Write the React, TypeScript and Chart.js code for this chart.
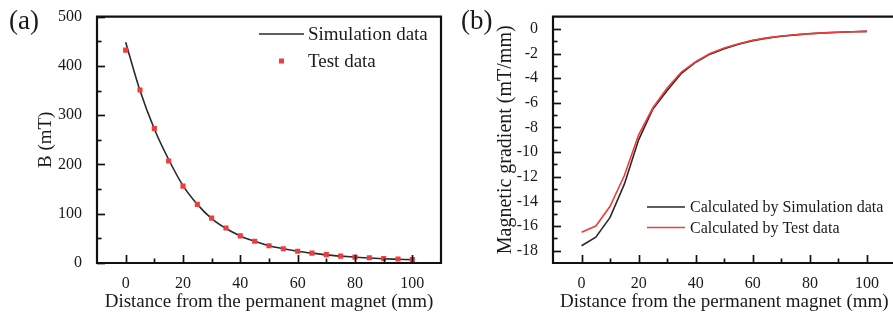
import React, { useEffect, useRef } from 'react';
import { Chart, registerables } from 'chart.js';

Chart.register(...registerables);

// ---------- data ----------
const distance = [0, 5, 10, 15, 20, 25, 30, 35, 40, 45, 50, 55, 60, 65, 70, 75, 80, 85, 90, 95, 100];
const simulationB = [448, 350, 272, 210, 157, 119, 90, 70, 55, 44, 35, 29, 24, 20, 16.5, 14, 12, 10, 8.5, 7.5, 6.5];
const testB = [432, 351, 273, 207, 156, 119, 91, 71, 55, 44, 35, 29, 24, 20, 17, 14, 12, 10.5, 9, 8, 7];
const gradientSimulation = [-17.6, -16.9, -15.3, -12.6, -9.0, -6.5, -5.0, -3.6, -2.7, -2.05, -1.6, -1.25, -0.95, -0.75, -0.6, -0.48, -0.39, -0.32, -0.27, -0.23, -0.2];
const gradientTest = [-16.5, -16.0, -14.4, -11.9, -8.6, -6.4, -4.8, -3.5, -2.65, -2.0, -1.55, -1.2, -0.92, -0.73, -0.58, -0.47, -0.38, -0.32, -0.27, -0.23, -0.2];

const xTicks = [0, 20, 40, 60, 80, 100];
const xMinorTicks = [10, 30, 50, 70, 90];
const bTicks = [0, 100, 200, 300, 400, 500];
const bMinorTicks = [50, 150, 250, 350, 450];
const gradTicks = [0, -2, -4, -6, -8, -10, -12, -14, -16, -18];
const gradMinorTicks = [-1, -3, -5, -7, -9, -11, -13, -15, -17];

const xTitle = 'Distance from the permanent magnet (mm)';
const bTitle = 'B (mT)';
const gradTitle = 'Magnetic gradient (mT/mm)';
const legendA = ['Simulation data', 'Test data'];
const legendB = ['Calculated by Simulation data', 'Calculated by Test data'];

const SERIF = '"Liberation Serif", "Times New Roman", serif';
const DARK = '#2a2a2a';
const RED = '#f23c3c';
const TEXT = '#1a1a1a';

// ---------- plugin: frame, inward ticks, legend, panel label ----------
const framePlugin = {
  id: 'frame',
  afterDraw(chart: any, _args: any, opts: any) {
    const { ctx, chartArea: a } = chart;
    const xs = chart.scales.x;
    const ys = chart.scales.y;
    ctx.save();
    ctx.strokeStyle = '#111111';
    ctx.lineWidth = 2.2;
    ctx.lineCap = 'square';
    ctx.beginPath();
    ctx.moveTo(a.left, a.top);
    ctx.lineTo(a.right, a.top);
    ctx.lineTo(a.right, a.bottom);
    ctx.lineTo(a.left, a.bottom);
    ctx.closePath();
    ctx.stroke();
    ctx.lineCap = 'butt';
    ctx.lineWidth = 1.7;
    const tick = (vals: number[], len: number, horiz: boolean) => {
      vals.forEach((v) => {
        ctx.beginPath();
        if (horiz) {
          const px = Math.round(xs.getPixelForValue(v)) + 0.5;
          ctx.moveTo(px, a.bottom);
          ctx.lineTo(px, a.bottom - len);
        } else {
          const py = Math.round(ys.getPixelForValue(v)) + 0.5;
          ctx.moveTo(a.left, py);
          ctx.lineTo(a.left + len, py);
        }
        ctx.stroke();
      });
    };
    tick(opts.xMajor, 8, true);
    tick(opts.xMinor, 4.5, true);
    tick(opts.yMajor, 8, false);
    tick(opts.yMinor, 4.5, false);

    // legend
    ctx.textBaseline = 'middle';
    ctx.textAlign = 'left';
    ctx.font = `${opts.legendSize}px ${SERIF}`;
    opts.legend.forEach((it: any) => {
      if (it.kind === 'line') {
        ctx.strokeStyle = it.color;
        ctx.lineWidth = 1.6;
        ctx.beginPath();
        ctx.moveTo(it.x0, it.y);
        ctx.lineTo(it.x1, it.y);
        ctx.stroke();
      } else {
        ctx.fillStyle = it.color;
        const c = (it.x0 + it.x1) / 2;
        ctx.fillRect(c - 2.5, it.y - 2.5, 5, 5);
      }
      ctx.fillStyle = TEXT;
      ctx.fillText(it.text, it.tx, it.y + 1);
    });

    // panel label
    ctx.font = `27px ${SERIF}`;
    ctx.textBaseline = 'alphabetic';
    ctx.fillStyle = TEXT;
    ctx.fillText(opts.panel, opts.panelX, opts.panelY);
    ctx.restore();
  },
};

function makeScales(yMin: number, yMax: number, yTickVals: number[], yTitle: string, yWidth: number, yTitlePad: number, yTitleSize: number) {
  return {
    x: {
      type: 'linear',
      min: -10,
      max: 110,
      afterBuildTicks: (s: any) => { s.ticks = xTicks.map((v) => ({ value: v })); },
      afterFit: (s: any) => { s.height = 57; },
      grid: { display: false },
      border: { display: false },
      ticks: { padding: 3, color: TEXT, font: { family: SERIF, size: 16 }, maxRotation: 0 },
      title: { display: true, text: xTitle, color: TEXT, font: { family: SERIF, size: 19, lineHeight: 1.2 }, padding: { top: 0, bottom: 6.5 } },
    },
    y: {
      type: 'linear',
      min: yMin,
      max: yMax,
      afterBuildTicks: (s: any) => { s.ticks = yTickVals.map((v) => ({ value: v })); },
      afterFit: (s: any) => { s.width = yWidth; },
      grid: { display: false },
      border: { display: false },
      ticks: { padding: 7, color: TEXT, font: { family: SERIF, size: 16 } },
      title: { display: true, text: yTitle, color: TEXT, font: { family: SERIF, size: yTitleSize, lineHeight: 1.2 }, padding: { top: yTitlePad, bottom: 0 } },
    },
  };
}

function PanelA() {
  const ref = useRef<HTMLCanvasElement>(null);
  useEffect(() => {
    const chart = new Chart(ref.current as HTMLCanvasElement, {
      type: 'line',
      data: {
        datasets: [
          {
            label: legendA[1],
            data: distance.map((x, i) => ({ x, y: testB[i] })),
            showLine: false,
            pointStyle: 'rect',
            pointRadius: 3.6,
            pointBackgroundColor: RED,
            pointBorderWidth: 0,
            order: 0,
          },
          {
            label: legendA[0],
            data: distance.map((x, i) => ({ x, y: simulationB[i] })),
            borderColor: DARK,
            borderWidth: 1.6,
            pointRadius: 0,
            cubicInterpolationMode: 'monotone',
            fill: false,
            order: 1,
          },
        ],
      } as any,
      options: {
        responsive: false,
        animation: false,
        devicePixelRatio: 1,
        layout: { padding: { top: 13, right: 4, left: 0, bottom: 0 } },
        plugins: {
          legend: { display: false },
          tooltip: { enabled: false },
          frame: {
            xMajor: xTicks, xMinor: xMinorTicks, yMajor: bTicks, yMinor: bMinorTicks,
            legendSize: 19,
            legend: [
              { kind: 'line', color: DARK, x0: 259, x1: 304, y: 34, tx: 308, text: legendA[0] },
              { kind: 'point', color: RED, x0: 259, x1: 304, y: 61, tx: 308, text: legendA[1] },
            ],
            panel: '(a)', panelX: 9, panelY: 29,
          },
        } as any,
        scales: makeScales(0, 500, bTicks, bTitle, 97, 35, 19) as any,
      },
      plugins: [framePlugin],
    });
    return () => chart.destroy();
  }, []);
  return <canvas ref={ref} width={445} height={320} style={{ display: 'block' }} />;
}

function PanelB() {
  const ref = useRef<HTMLCanvasElement>(null);
  useEffect(() => {
    const chart = new Chart(ref.current as HTMLCanvasElement, {
      type: 'line',
      data: {
        datasets: [
          {
            label: legendB[1],
            data: distance.map((x, i) => ({ x, y: gradientTest[i] })),
            borderColor: RED,
            borderWidth: 1.6,
            pointRadius: 0,
            fill: false,
            order: 0,
          },
          {
            label: legendB[0],
            data: distance.map((x, i) => ({ x, y: gradientSimulation[i] })),
            borderColor: DARK,
            borderWidth: 1.6,
            pointRadius: 0,
            fill: false,
            order: 1,
          },
        ],
      } as any,
      options: {
        responsive: false,
        animation: false,
        devicePixelRatio: 1,
        layout: { padding: { top: 13, right: 4.5, left: 0, bottom: 0 } },
        plugins: {
          legend: { display: false },
          tooltip: { enabled: false },
          frame: {
            xMajor: xTicks, xMinor: xMinorTicks, yMajor: gradTicks, yMinor: gradMinorTicks,
            legendSize: 16,
            legend: [
              { kind: 'line', color: DARK, x0: 202, x1: 240, y: 207, tx: 245, text: legendB[0] },
              { kind: 'line', color: RED, x0: 202, x1: 240, y: 227.5, tx: 245, text: legendB[1] },
            ],
            panel: '(b)', panelX: 16, panelY: 29,
          },
        } as any,
        scales: makeScales(-19, 1, gradTicks, gradTitle, 108, 49, 20) as any,
      },
      plugins: [framePlugin],
    });
    return () => chart.destroy();
  }, []);
  return <canvas ref={ref} width={455} height={320} style={{ display: 'block' }} />;
}

export default function App() {
  useEffect(() => {
    document.body.style.margin = '0';
    document.body.style.overflow = 'hidden';
  }, []);
  return (
    <div style={{ position: 'relative', width: 893, height: 320, overflow: 'hidden', background: '#fff' }}>
      <div style={{ position: 'absolute', left: 0, top: 0 }}>
        <PanelA />
      </div>
      <div style={{ position: 'absolute', left: 445, top: 0 }}>
        <PanelB />
      </div>
    </div>
  );
}
